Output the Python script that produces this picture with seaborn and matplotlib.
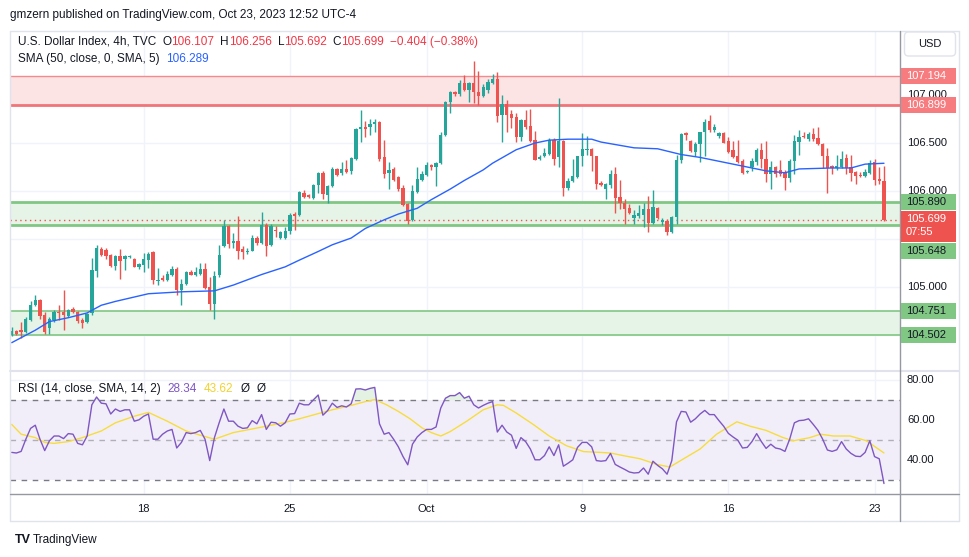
import matplotlib
matplotlib.use("Agg")
import matplotlib.pyplot as plt
import seaborn as sns
import numpy as np
import pandas as pd
from matplotlib.patches import Rectangle, FancyBboxPatch
from matplotlib.lines import Line2D
from matplotlib.transforms import IdentityTransform

# ---------------- data ----------------
opens = [104.50, 104.54, 104.55, 104.53, 104.66, 104.81, 104.86, 104.71, 104.57, 104.66,
         104.74, 104.74, 104.70, 104.77, 104.74, 104.66, 104.64, 104.73, 105.17, 105.40,
         105.39, 105.33, 105.22, 105.32, 105.29, 105.31, 105.29, 105.21, 105.23, 105.28,
         105.36, 105.06, 105.09, 105.07, 105.12, 105.19, 104.97, 105.03, 105.16, 105.12,
         105.14, 105.19, 105.00, 104.82, 105.12, 105.43, 105.64, 105.46, 105.48, 105.40,
         105.36, 105.38, 105.51, 105.46, 105.65, 105.44, 105.59, 105.51, 105.51, 105.58,
         105.76, 105.75, 105.98, 105.96, 105.93, 106.06, 106.19, 105.96, 106.05, 106.23,
         106.19, 106.23, 106.21, 106.33, 106.65, 106.67, 106.67, 106.70, 106.72, 106.35,
         106.19, 106.23, 106.15, 106.03, 105.86, 105.70, 105.99, 106.11, 106.17, 106.27,
         106.25, 106.29, 106.58, 106.93, 107.03, 107.01, 107.13, 107.05, 107.13, 107.03,
         106.99, 107.05, 107.13, 107.17, 106.79, 106.91, 106.80, 106.77, 106.56, 106.74,
         106.68, 106.53, 106.33, 106.36, 106.39, 106.53, 106.35, 106.52, 106.03, 106.10,
         106.15, 106.36, 106.43, 106.44, 106.36, 106.08, 106.02, 106.06, 106.18, 105.94,
         105.88, 105.82, 105.72, 105.74, 105.75, 105.81, 105.67, 105.82, 105.68, 105.69,
         105.57, 105.73, 106.32, 106.60, 106.52, 106.41, 106.49, 106.61, 106.73, 106.64,
         106.57, 106.60, 106.52, 106.43, 106.37, 106.31, 106.20, 106.25, 106.30, 106.43,
         106.33, 106.18, 106.25, 106.22, 106.19, 106.14, 106.31, 106.51, 106.57, 106.54,
         106.59, 106.55, 106.49, 106.36, 106.26, 106.24, 106.25, 106.34, 106.25, 106.20,
         106.17, 106.16, 106.19, 106.30, 106.12, 106.107]
highs = [104.58, 104.55, 104.64, 104.69, 104.85, 104.92, 104.87, 104.74, 104.69, 104.76,
         104.81, 104.97, 104.77, 104.79, 104.75, 104.68, 104.73, 105.30, 105.44, 105.42,
         105.41, 105.34, 105.33, 105.40, 105.33, 105.33, 105.30, 105.25, 105.35, 105.36,
         105.37, 105.20, 105.12, 105.17, 105.22, 105.21, 105.08, 105.17, 105.18, 105.21,
         105.25, 105.25, 105.10, 105.17, 105.44, 105.70, 105.65, 105.56, 105.74, 105.43,
         105.41, 105.54, 105.53, 105.78, 105.67, 105.66, 105.64, 105.58, 105.63, 105.77,
         105.78, 106.00, 106.01, 105.97, 106.07, 106.20, 106.21, 106.06, 106.25, 106.24,
         106.30, 106.32, 106.35, 106.66, 106.84, 106.73, 106.75, 106.75, 106.73, 106.53,
         106.30, 106.25, 106.16, 106.06, 105.87, 106.06, 106.25, 106.21, 106.30, 106.28,
         106.30, 106.61, 106.94, 107.04, 107.04, 107.16, 107.21, 107.14, 107.35, 107.25,
         107.11, 107.17, 107.22, 107.24, 107.00, 106.95, 106.84, 106.81, 106.75, 106.84,
         106.85, 106.63, 106.38, 106.45, 106.55, 106.55, 106.97, 106.53, 106.14, 106.33,
         106.37, 106.60, 106.57, 106.45, 106.37, 106.10, 106.08, 106.22, 106.25, 106.11,
         105.92, 105.86, 105.80, 105.85, 105.88, 105.95, 106.01, 105.83, 105.72, 105.71,
         105.74, 106.38, 106.60, 106.61, 106.53, 106.51, 106.62, 106.75, 106.79, 106.70,
         106.61, 106.61, 106.56, 106.52, 106.53, 106.33, 106.22, 106.34, 106.45, 106.50,
         106.52, 106.31, 106.26, 106.32, 106.22, 106.33, 106.58, 106.64, 106.61, 106.61,
         106.66, 106.67, 106.50, 106.45, 106.27, 106.38, 106.42, 106.39, 106.38, 106.21,
         106.20, 106.23, 106.32, 106.33, 106.25, 106.256]
lows = [104.49, 104.50, 104.47, 104.52, 104.65, 104.80, 104.67, 104.51, 104.51, 104.64,
        104.66, 104.55, 104.69, 104.73, 104.62, 104.57, 104.63, 104.71, 105.10, 105.32,
        105.29, 105.21, 105.18, 105.08, 105.18, 105.30, 105.21, 105.19, 105.16, 105.20,
        105.03, 105.02, 105.06, 105.06, 105.11, 104.92, 104.81, 105.02, 105.12, 105.11,
        105.13, 104.98, 104.76, 104.67, 105.10, 105.42, 105.41, 105.41, 105.29, 105.29,
        105.34, 105.37, 105.44, 105.45, 105.32, 105.43, 105.52, 105.50, 105.50, 105.55,
        105.59, 105.74, 105.93, 105.93, 105.92, 105.98, 105.92, 105.87, 106.04, 106.16,
        106.17, 106.19, 106.18, 106.32, 106.51, 106.56, 106.58, 106.62, 106.31, 106.14,
        106.02, 106.10, 106.00, 105.84, 105.66, 105.69, 105.98, 106.10, 106.16, 106.22,
        106.05, 106.28, 106.57, 106.81, 106.99, 106.99, 107.04, 106.93, 106.92, 106.90,
        106.98, 107.02, 107.12, 106.72, 106.51, 106.62, 106.66, 106.51, 106.52, 106.65,
        106.51, 106.32, 106.32, 106.35, 106.38, 106.27, 106.25, 105.95, 106.01, 106.09,
        106.14, 106.26, 106.38, 106.21, 106.02, 106.05, 105.92, 106.03, 105.77, 105.81,
        105.66, 105.76, 105.66, 105.72, 105.62, 105.57, 105.66, 105.71, 105.65, 105.54,
        105.56, 105.66, 106.29, 106.53, 106.41, 106.37, 106.30, 106.36, 106.62, 106.62,
        106.55, 106.50, 106.40, 106.34, 106.29, 106.18, 106.19, 106.21, 106.27, 106.24,
        106.09, 106.02, 106.15, 106.16, 106.01, 106.09, 106.18, 106.38, 106.55, 106.52,
        106.52, 106.48, 106.24, 105.98, 106.18, 106.22, 106.24, 106.18, 106.10, 106.07,
        106.15, 106.15, 106.18, 106.06, 106.07, 105.692]
closes = [104.54, 104.51, 104.53, 104.67, 104.81, 104.86, 104.70, 104.53, 104.67, 104.74,
          104.73, 104.71, 104.76, 104.74, 104.65, 104.62, 104.72, 105.18, 105.41, 105.33,
          105.32, 105.22, 105.32, 105.27, 105.32, 105.32, 105.21, 105.24, 105.29, 105.34,
          105.07, 105.07, 105.07, 105.14, 105.19, 104.97, 105.03, 105.16, 105.13, 105.16,
          105.19, 104.99, 104.82, 105.11, 105.33, 105.64, 105.45, 105.48, 105.37, 105.36,
          105.37, 105.51, 105.46, 105.65, 105.43, 105.64, 105.58, 105.57, 105.58, 105.75,
          105.74, 105.99, 105.94, 105.94, 106.06, 106.19, 105.97, 106.05, 106.23, 106.17,
          106.23, 106.20, 106.34, 106.65, 106.67, 106.65, 106.70, 106.72, 106.33, 106.18,
          106.22, 106.11, 106.02, 105.85, 105.69, 106.00, 106.13, 106.18, 106.27, 106.25,
          106.29, 106.58, 106.93, 107.03, 107.01, 107.13, 107.05, 107.13, 107.03, 106.99,
          107.08, 107.14, 107.17, 106.78, 106.91, 106.79, 106.76, 106.56, 106.74, 106.67,
          106.52, 106.32, 106.35, 106.40, 106.53, 106.33, 106.52, 106.03, 106.10, 106.16,
          106.36, 106.44, 106.44, 106.36, 106.07, 106.06, 106.07, 106.18, 105.93, 105.88,
          105.81, 105.77, 105.75, 105.77, 105.81, 105.67, 105.83, 105.72, 105.70, 105.57,
          105.73, 106.32, 106.59, 106.58, 106.42, 106.49, 106.61, 106.72, 106.64, 106.67,
          106.60, 106.50, 106.41, 106.35, 106.30, 106.19, 106.21, 106.31, 106.43, 106.33,
          106.18, 106.25, 106.18, 106.18, 106.14, 106.31, 106.52, 106.56, 106.56, 106.59,
          106.54, 106.49, 106.36, 106.24, 106.24, 106.26, 106.33, 106.24, 106.19, 106.16,
          106.16, 106.20, 106.29, 106.11, 106.10, 105.699]

sma_idx = [0, 5, 8, 12, 16, 19, 22, 29, 36, 43, 47, 53, 58, 61, 65, 68, 72, 75, 79, 82,
           86, 89, 93, 96, 100, 102, 107, 111, 114, 118, 123, 125, 132, 137, 142, 146,
           150, 157, 160, 164, 167, 174, 178, 181, 185]
sma_val = [104.42, 104.55, 104.64, 104.68, 104.73, 104.81, 104.85, 104.93, 104.95, 104.96,
           105.02, 105.13, 105.21, 105.28, 105.37, 105.44, 105.51, 105.61, 105.70, 105.76,
           105.82, 105.91, 106.02, 106.11, 106.22, 106.29, 106.43, 106.50, 106.53, 106.54,
           106.54, 106.51, 106.45, 106.44, 106.38, 106.35, 106.31, 106.24, 106.21, 106.19,
           106.23, 106.24, 106.24, 106.28, 106.289]

rsi = [43.9, 43.6, 44.4, 50.5, 55.9, 57.5, 50.5, 44.8, 49.7, 52.1,
       52.1, 50.8, 53.3, 53.0, 48.4, 47.7, 52.1, 67.7, 71.6, 68.5,
       68.2, 63.1, 65.6, 64.4, 65.2, 65.2, 59.5, 60.2, 62.0, 63.1,
       50.5, 50.5, 53.0, 54.6, 55.4, 46.1, 48.9, 53.8, 53.3, 53.8,
       54.9, 50.5, 39.8, 51.3, 58.7, 65.6, 59.5, 59.5, 57.0, 55.9,
       56.2, 59.8, 58.2, 62.8, 55.4, 59.0, 58.7, 57.0, 58.7, 63.1,
       63.3, 68.5, 67.7, 67.7, 70.2, 72.6, 62.5, 64.8, 68.5, 66.4,
       67.2, 66.6, 68.2, 75.6, 75.7, 75.1, 75.9, 76.4, 58.2, 53.0,
       53.8, 50.5, 46.7, 41.8, 37.7, 48.0, 51.6, 53.8, 55.4, 55.4,
       56.6, 66.1, 71.0, 72.3, 72.3, 73.8, 71.0, 72.0, 67.7, 66.1,
       67.4, 68.5, 69.3, 54.1, 57.5, 54.1, 52.5, 45.9, 51.3, 49.3,
       45.6, 40.2, 40.2, 42.3, 46.7, 42.3, 47.7, 37.0, 38.5, 40.2,
       46.4, 48.9, 48.9, 46.7, 39.8, 39.5, 39.8, 43.4, 37.9, 36.6,
       35.4, 34.1, 33.6, 33.8, 36.1, 33.0, 39.5, 37.4, 35.7, 33.0,
       39.8, 59.2, 64.4, 64.1, 59.0, 60.7, 63.1, 64.9, 62.8, 62.8,
       59.8, 57.0, 53.4, 51.6, 50.0, 46.1, 46.4, 49.3, 53.3, 49.3,
       45.9, 48.0, 46.1, 45.6, 44.4, 50.5, 58.7, 59.8, 60.0, 60.7,
       57.9, 54.9, 50.5, 45.1, 44.4, 45.2, 49.3, 45.6, 43.4, 42.0,
       41.8, 43.9, 49.7, 41.8, 40.7, 28.34]

rsi_ma_idx = [0, 2, 5, 7, 9, 12, 15, 19, 22, 26, 29, 33, 37, 40, 43, 47, 50.5, 54, 57.6,
              61, 64.7, 68, 72, 75, 77, 79.5, 82, 84.5, 87, 89, 91, 93, 96.5, 100, 103,
              104.3, 107, 110.6, 114, 117.7, 121.3, 124.8, 127, 129.7, 133.3, 136.8,
              139.6, 142.5, 146, 149.5, 153.8, 156.6, 160, 163.6, 165.8, 169.3, 171.5,
              174.3, 177.8, 181.3, 185]
rsi_ma_val = [57.9, 53.0, 51.3, 48.9, 48.4, 49.3, 51.3, 54.6, 58.7, 62.0, 63.9, 59.5, 54.6,
              52.5, 50.5, 53.8, 55.4, 57.0, 58.7, 60.7, 63.1, 65.2, 67.4, 69.3, 70.3, 67.7,
              64.4, 60.7, 56.2, 53.8, 52.1, 54.3, 59.5, 65.2, 67.7, 67.4, 63.6, 57.9, 52.1,
              47.2, 44.3, 43.9, 43.6, 42.3, 40.7, 37.9, 36.6, 40.7, 45.6, 53.0, 59.2, 57.0,
              54.9, 51.3, 49.7, 51.3, 53.0, 52.1, 52.1, 49.7, 43.62]

tick_idx = [28, 59, 88, 121, 152, 183]
tick_labels = ["18", "25", "Oct", "9", "16", "23"]
price_ticks = [107.0, 106.5, 106.0, 105.0]
price_grid = [104.5, 105.0, 105.5, 106.0, 106.5, 107.0]
rsi_ticks = [80, 60, 40]
resistance = [106.899, 107.194]
support_hi = [105.648, 105.890]
support_lo = [104.502, 104.751]
last_price = 105.699
countdown = "07:55"

# ---------------- style ----------------
sns.set_theme(style="white")
plt.rcParams['font.family'] = ['Liberation Sans', 'DejaVu Sans']

UP, DOWN = '#26a69a', '#ef5350'
TXT = '#131722'
GRID = '#f0f3fa'
W, H = 970, 557

fig = plt.figure(figsize=(W / 100, H / 100), dpi=100)
fig.patch.set_facecolor('white')


def fr(x0, y_top, x1, y_bot):
    return [x0 / W, 1 - y_bot / H, (x1 - x0) / W, (y_bot - y_top) / H]


ax_p = fig.add_axes(fr(10, 31, 900, 371))
ax_r = fig.add_axes(fr(10, 371, 900, 494), sharex=ax_p)
for ax in (ax_p, ax_r):
    ax.set_facecolor('white')
    for s in ax.spines.values():
        s.set_visible(False)

ax_p.set_xlim(-0.36, 188.4)
ax_p.set_ylim(104.125, 107.667)
ax_r.set_ylim(23.1, 84.6)

# grids
for t in tick_idx:
    ax_p.axvline(t, color=GRID, lw=1, zorder=0)
    ax_r.axvline(t, color=GRID, lw=1, zorder=0)
for g in price_grid:
    ax_p.axhline(g, color=GRID, lw=1, zorder=0)
for g in rsi_ticks:
    ax_r.axhline(g, color=GRID, lw=1, zorder=0)

# zones
ax_p.axhspan(resistance[0], resistance[1], color='#fce4e5', lw=0, zorder=0.5)
ax_p.axhline(resistance[1], color='#f58a8e', lw=1.0, zorder=0.6)
ax_p.axhline(resistance[0], color='#f07478', lw=2.0, zorder=0.6)
ax_p.axhspan(support_hi[0], support_hi[1], color='#e6f4e7', lw=0, zorder=0.5)
ax_p.axhline(support_hi[1], color='#81c784', lw=2.0, zorder=0.6)
ax_p.axhline(support_hi[0], color='#81c784', lw=2.0, zorder=0.6)
ax_p.axhspan(support_lo[0], support_lo[1], color='#e6f4e7', lw=0, zorder=0.5)
ax_p.axhline(support_lo[1], color='#81c784', lw=1.2, zorder=0.6)
ax_p.axhline(support_lo[0], color='#81c784', lw=1.2, zorder=0.6)

# candles
df = pd.DataFrame({'o': opens, 'h': highs, 'l': lows, 'c': closes})
df['i'] = np.arange(len(df))
df['up'] = df['c'] >= df['o']
cols = np.where(df['up'], UP, DOWN)
ax_p.vlines(df['i'], df['l'], df['h'], colors=cols, lw=1.0, zorder=2)
body_h = np.maximum((df['c'] - df['o']).abs(), 0.012)
ax_p.bar(df['i'], body_h, bottom=np.minimum(df['o'], df['c']), width=0.7,
         color=cols, lw=0, zorder=3)

# SMA
sns.lineplot(x=sma_idx, y=sma_val, ax=ax_p, color='#2962FF', lw=1.0, zorder=4)

# last price dotted line
ax_p.axhline(last_price, color=DOWN, lw=1.0, ls=(0, (1, 2.5)), zorder=1.5)

# RSI pane
ax_r.axhspan(30, 70, color='#f2eef9', lw=0, zorder=0.2)
for lvl, a in ((70, 1.0), (50, 0.55), (30, 1.0)):
    ax_r.axhline(lvl, color='#787b86', alpha=a, lw=1.0, ls=(0, (4, 4)), zorder=0.8)
ridx = np.arange(len(rsi))
rarr = np.array(rsi)
ax_r.fill_between(ridx, 70, rarr, where=rarr > 70, interpolate=True,
                  color='#e4f2e4', lw=0, zorder=0.9)
sns.lineplot(x=rsi_ma_idx, y=rsi_ma_val, ax=ax_r, color='#f7dd3c', lw=1.0, zorder=2)
sns.lineplot(x=ridx, y=rsi, ax=ax_r, color='#7e57c2', lw=1.0, zorder=3)

for ax in (ax_p, ax_r):
    ax.set_xlabel('')
    ax.set_ylabel('')
    ax.set_yticks([])
ax_p.tick_params(axis='x', length=0, labelbottom=False)
ax_r.set_xticks(tick_idx)
ax_r.set_xticklabels(tick_labels, fontsize=8, color=TXT)
ax_r.tick_params(axis='x', length=0, pad=7)

# ---------------- frame lines ----------------
def hline(y, x0, x1, color, lw=1.0):
    fig.add_artist(Line2D([x0 / W, x1 / W], [1 - y / H, 1 - y / H], color=color, lw=lw,
                          transform=fig.transFigure, zorder=1))


def vline(x, y0, y1, color, lw=1.0):
    fig.add_artist(Line2D([x / W, x / W], [1 - y0 / H, 1 - y1 / H], color=color, lw=lw,
                          transform=fig.transFigure, zorder=1))


LINE = '#e0e3eb'
hline(30.5, 10, 959, LINE)
hline(521, 10, 959, LINE)
vline(10, 30.5, 521, LINE)
vline(959, 30.5, 521, LINE)
hline(371, 10, 959, LINE, lw=1.5)
hline(494, 10, 959, '#9598a1')
vline(900.5, 30.5, 521, '#9598a1')

# ---------------- right price scale ----------------
def ypx(ax, v):
    return ax.transData.transform((0, v))[1]


for p in price_ticks:
    fig.text(907 / W, ypx(ax_p, p) / H, f"{p:.3f}", fontsize=8, color=TXT,
             ha='left', va='center', zorder=3)
for r in rsi_ticks:
    fig.text(907 / W, ypx(ax_r, r) / H, f"{r:.2f}", fontsize=8, color=TXT,
             ha='left', va='center', zorder=3)


def label_box(yc, h, face, texts, tcol):
    fig.add_artist(Rectangle((901 / W, (yc - h / 2) / H), 55 / W, h / H,
                             transform=fig.transFigure, facecolor=face,
                             edgecolor='none', zorder=5))
    n = len(texts)
    for k, s in enumerate(texts):
        ty = yc + (h / 2 - 8) - k * 13 if n > 1 else yc
        fig.text(906 / W, ty / H, s, fontsize=8, color=tcol, ha='left',
                 va='center', zorder=6)


for v in resistance:
    label_box(ypx(ax_p, v), 16, '#f77c80', [f"{v:.3f}"], 'white')
label_box(ypx(ax_p, support_hi[1]), 16, '#81c784', [f"{support_hi[1]:.3f}"], TXT)
for v in support_lo:
    label_box(ypx(ax_p, v), 16, '#81c784', [f"{v:.3f}"], TXT)
yl = ypx(ax_p, last_price)
lp_h = 31
lp_c = yl - lp_h / 2 + 9
label_box(lp_c, lp_h, '#ef5350', [f"{last_price:.3f}", countdown], 'white')
label_box(lp_c - lp_h / 2 - 9, 16, '#81c784', [f"{support_hi[0]:.3f}"], TXT)

fig.add_artist(FancyBboxPatch((904.5, H - 56), 51, 24,
                              boxstyle="round,pad=0,rounding_size=4",
                              transform=IdentityTransform(), facecolor='white',
                              edgecolor=LINE, lw=1, zorder=5))
fig.text(930 / W, 1 - 44 / H, "USD", fontsize=8, color=TXT, ha='center',
         va='center', zorder=6)

# ---------------- legends / texts ----------------
renderer = fig.canvas.get_renderer()


def seq(x, y, parts, size=8.5):
    for s, col, gap in parts:
        t = fig.text(x / W, 1 - y / H, s, color=col, fontsize=size, ha='left',
                     va='center', zorder=6)
        x += t.get_window_extent(renderer).width + gap


RED = '#f23645'
fig.text(10 / W, 1 - 15 / H, "gmzern published on TradingView.com, Oct 23, 2023 12:52 UTC-4",
         fontsize=8.5, color=TXT, ha='left', va='center')
seq(18, 42, [("U.S. Dollar Index, 4h, TVC", TXT, 6),
             ("O", TXT, 0), (f"{opens[-1]:.3f}", RED, 6),
             ("H", TXT, 0), (f"{highs[-1]:.3f}", RED, 6),
             ("L", TXT, 0), (f"{lows[-1]:.3f}", RED, 6),
             ("C", TXT, 0), (f"{closes[-1]:.3f}", RED, 6),
             ("\u22120.404 (\u22120.38%)", RED, 0)])
seq(18, 59, [("SMA (50, close, 0, SMA, 5)", TXT, 6), (f"{sma_val[-1]:.3f}", '#2962FF', 0)])
seq(18, 389, [("RSI (14, close, SMA, 14, 2)", TXT, 7),
              (f"{rsi[-1]:.2f}", '#7e57c2', 7),
              (f"{rsi_ma_val[-1]:.2f}", '#f2d22e', 7),
              ("\u00d8", TXT, 7), ("\u00d8", TXT, 0)])

fig.text(15 / W, 1 - 540 / H, "TV", fontsize=9, fontweight='bold', color=TXT,
         ha='left', va='center')
fig.text(33 / W, 1 - 540 / H, "TradingView", fontsize=8.5, color=TXT,
         ha='left', va='center')

fig.savefig("out.png", dpi=100)
